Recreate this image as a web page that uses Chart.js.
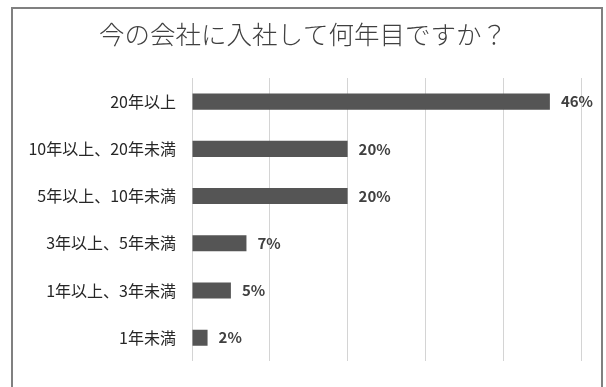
<!DOCTYPE html>
<html>
<head>
<meta charset="utf-8">
<script src="https://cdn.jsdelivr.net/npm/chart.js@4.4.1/dist/chart.umd.min.js"></script>
<style>
  body { margin: 0; background: #fff; }
  #wrap { position: relative; width: 606px; height: 387px; overflow: hidden; }
  #frame {
    position: absolute; left: 11px; top: 7px; width: 588px; height: 400px;
    border: 2px solid #808080; border-bottom: none;
  }
  canvas { position: absolute; left: 0; top: 0; }
</style>
</head>
<body>
<div id="wrap">
  <div id="frame"></div>
  <canvas id="chart" width="606" height="387"></canvas>
</div>
<script>
// data
const categories = ["20年以上", "10年以上、20年未満", "5年以上、10年未満", "3年以上、5年未満", "1年以上、3年未満", "1年未満"]
const percents = [46, 20, 20, 7, 5, 2]
const chartTitle = "今の会社に入社して何年目ですか？"

const jpFont = "'Noto Sans CJK JP', 'Noto Sans', sans-serif"

// draws "46%" etc. next to each bar
const valueLabels = {
  id: 'valueLabels',
  afterDatasetsDraw(chart) {
    const ctx = chart.ctx
    const meta = chart.getDatasetMeta(0)
    ctx.save()
    ctx.font = "bold 15px " + jpFont
    ctx.fillStyle = '#404040'
    ctx.textAlign = 'left'
    ctx.textBaseline = 'middle'
    meta.data.forEach((bar, i) => {
      ctx.fillText(percents[i] + '%', bar.x + 11, bar.y)
    })
    ctx.restore()
  }
}

new Chart(document.getElementById('chart'), {
  type: 'bar',
  data: {
    labels: categories,
    datasets: [{
      data: percents,
      backgroundColor: '#555555',
      borderWidth: 0,
      categoryPercentage: 1,
      barPercentage: 0.34
    }]
  },
  options: {
    indexAxis: 'y',
    responsive: false,
    animation: false,
    layout: { padding: { left: 25, right: 25, top: 0, bottom: 16 } },
    plugins: {
      legend: { display: false },
      tooltip: { enabled: false },
      title: {
        display: true,
        text: chartTitle,
        color: '#404040',
        font: { family: jpFont, size: 25.5, weight: 300, lineHeight: 1.2 },
        padding: { top: 19, bottom: 28.4 }
      }
    },
    scales: {
      x: {
        min: 0,
        max: 50,
        afterFit: (s) => { s.height = 0 },
        ticks: { display: false, stepSize: 10 },
        grid: { color: '#d4d4d4', lineWidth: 1, drawTicks: false },
        border: { display: false }
      },
      y: {
        afterFit: (s) => { s.width = 167 },
        ticks: { color: '#262626', padding: 16, font: { family: jpFont, size: 16 } },
        grid: { display: false, drawTicks: false },
        border: { display: false }
      }
    }
  },
  plugins: [valueLabels]
})
</script>
</body>
</html>
